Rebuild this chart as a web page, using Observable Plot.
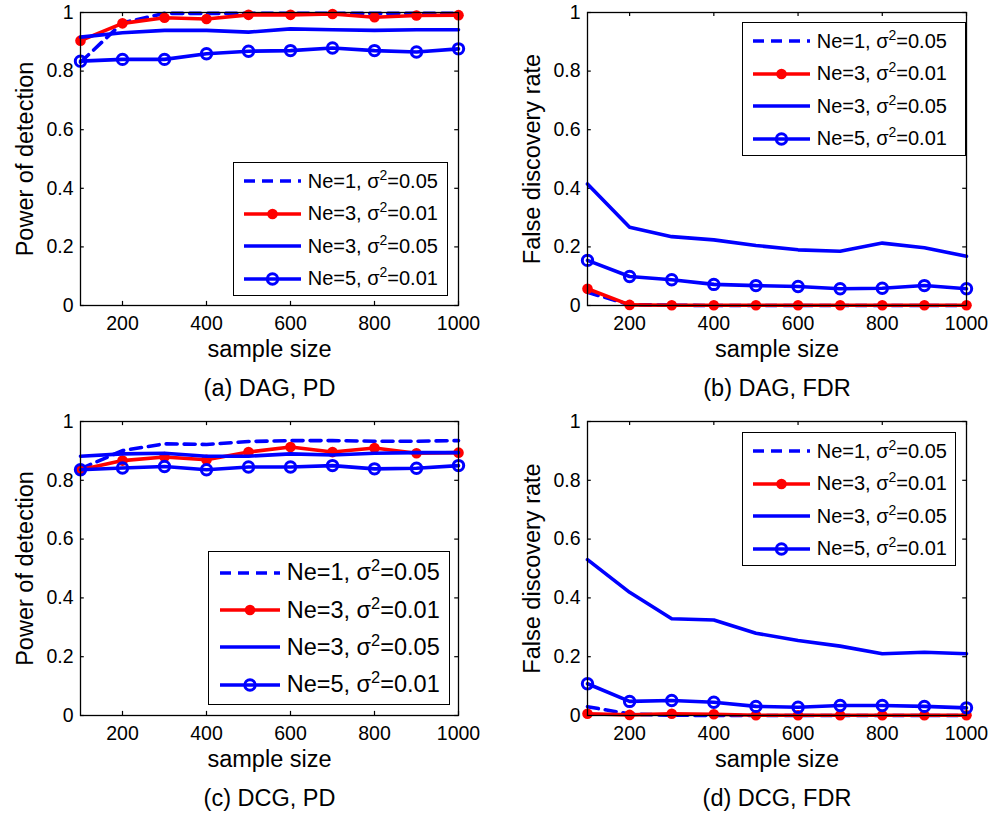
<!DOCTYPE html>
<html>
<head>
<meta charset="utf-8">
<script src="https://cdn.jsdelivr.net/npm/d3@7"></script>
<script src="https://cdn.jsdelivr.net/npm/@observablehq/plot@0.6"></script>
<style>
  body { margin: 0; background: #fff; }
  #root { position: relative; width: 992px; height: 817px; background: #fff; font-family: "Liberation Sans", Arial, Helvetica, sans-serif; color: #000; overflow: hidden; }
  .panel { position: absolute; }
  .legend { position: absolute; background: #fff; border: 1.3px solid #000; box-sizing: border-box; }
  .row { position: absolute; left: 0; display: flex; align-items: center; white-space: nowrap; }
  .row sup { font-size: 70%; line-height: 0; vertical-align: 0.55em; }
</style>
</head>
<body>
<div id="root"></div>
<script>
// ---------- data ----------
const sampleSizes = [100, 200, 300, 400, 500, 600, 700, 800, 900, 1000];
const xTicks = [200, 400, 600, 800, 1000];
const yTicks = [0, 0.2, 0.4, 0.6, 0.8, 1];

const seriesNe = ["Ne=1", "Ne=3", "Ne=3", "Ne=5"];
const seriesSigma = ["0.05", "0.01", "0.05", "0.01"];
const seriesColor = ["#0000ff", "#ff0000", "#0000ff", "#0000ff"];
const seriesStyle = ["dashed", "dot", "solid", "circle"];

// (a) DAG, PD
const dagPD_ne1_s05 = [0.830, 0.965, 0.997, 0.997, 0.997, 0.997, 0.997, 0.997, 0.997, 0.997];
const dagPD_ne3_s01 = [0.904, 0.963, 0.982, 0.978, 0.992, 0.992, 0.995, 0.984, 0.990, 0.991];
const dagPD_ne3_s05 = [0.916, 0.931, 0.939, 0.939, 0.933, 0.944, 0.941, 0.939, 0.941, 0.941];
const dagPD_ne5_s01 = [0.834, 0.840, 0.840, 0.859, 0.868, 0.870, 0.879, 0.870, 0.865, 0.876];

// (b) DAG, FDR
const dagFDR_ne1_s05 = [0.045, 0.003, 0.001, 0.000, 0.000, 0.000, 0.000, 0.000, 0.000, 0.000];
const dagFDR_ne3_s01 = [0.057, 0.002, 0.001, 0.001, 0.001, 0.001, 0.001, 0.001, 0.001, 0.001];
const dagFDR_ne3_s05 = [0.415, 0.267, 0.235, 0.224, 0.205, 0.190, 0.185, 0.213, 0.197, 0.168];
const dagFDR_ne5_s01 = [0.154, 0.099, 0.088, 0.072, 0.068, 0.065, 0.057, 0.059, 0.068, 0.057];

// (c) DCG, PD
const dcgPD_ne1_s05 = [0.839, 0.901, 0.924, 0.922, 0.932, 0.935, 0.935, 0.933, 0.933, 0.935];
const dcgPD_ne3_s01 = [0.836, 0.867, 0.879, 0.870, 0.896, 0.913, 0.896, 0.910, 0.892, 0.894];
const dcgPD_ne3_s05 = [0.882, 0.890, 0.892, 0.882, 0.882, 0.890, 0.886, 0.892, 0.894, 0.894];
const dcgPD_ne5_s01 = [0.836, 0.842, 0.847, 0.836, 0.845, 0.845, 0.850, 0.839, 0.841, 0.850];

// (d) DCG, FDR
const dcgFDR_ne1_s05 = [0.030, 0.005, 0.001, 0.000, 0.000, 0.000, 0.000, 0.000, 0.000, 0.000];
const dcgFDR_ne3_s01 = [0.006, 0.002, 0.006, 0.004, 0.001, 0.001, 0.001, 0.001, 0.001, 0.001];
const dcgFDR_ne3_s05 = [0.530, 0.419, 0.329, 0.325, 0.280, 0.255, 0.236, 0.210, 0.215, 0.210];
const dcgFDR_ne5_s01 = [0.108, 0.048, 0.051, 0.045, 0.031, 0.028, 0.034, 0.034, 0.031, 0.026];

const panelCaptions = ["(a) DAG, PD", "(b) DAG, FDR", "(c) DCG, PD", "(d) DCG, FDR"];
const panelYLabels = ["Power of detection", "False discovery rate", "Power of detection", "False discovery rate"];

// ---------- drawing ----------
const FONT = '"Liberation Sans", Arial, Helvetica, sans-serif';
const root = document.getElementById("root");

function rows(vals) { return sampleSizes.map((x, i) => ({x, y: vals[i]})); }

function seriesMarks(seriesVals) {
  const marks = [];
  seriesVals.forEach((vals, k) => {
    const data = rows(vals);
    const c = seriesColor[k];
    const st = seriesStyle[k];
    marks.push(Plot.lineY(data, {x: "x", y: "y", stroke: c, strokeWidth: 3.6,
      strokeDasharray: st === "dashed" ? "11,7" : null, strokeLinejoin: "round"}));
    if (st === "dot") marks.push(Plot.dot(data, {x: "x", y: "y", r: 5.3, fill: c, stroke: null}));
    if (st === "circle") marks.push(Plot.dot(data, {x: "x", y: "y", r: 5.2, fill: "none", stroke: c, strokeWidth: 3}));
  });
  return marks;
}

function makePanel(idx, seriesVals, left, top, plotW, plotH) {
  const mL = 80, mT = 12, mB = 95, mR = 21;
  const chart = Plot.plot({
    width: mL + plotW + mR,
    height: mT + plotH + mB,
    marginLeft: mL, marginRight: mR, marginTop: mT, marginBottom: mB,
    x: {domain: [100, 1000]},
    y: {domain: [0, 1]},
    style: {fontFamily: FONT, color: "#000", background: "transparent", overflow: "visible"},
    marks: [
      Plot.axisX({ticks: xTicks, tickSize: 0, tickPadding: 11, fontSize: 19.5, label: null, tickFormat: d => String(d)}),
      Plot.axisY({ticks: yTicks, tickSize: 0, tickPadding: 7, fontSize: 19.5, label: null, tickFormat: d => String(d)}),
      // inward MATLAB-style ticks on all four sides
      Plot.ruleX(xTicks, {x: d => d, y1: 0, y2: 0.014, stroke: "#000", strokeWidth: 1.2}),
      Plot.ruleX(xTicks, {x: d => d, y1: 1, y2: 0.986, stroke: "#000", strokeWidth: 1.2}),
      Plot.ruleY(yTicks, {y: d => d, x1: 100, x2: 109, stroke: "#000", strokeWidth: 1.2}),
      Plot.ruleY(yTicks, {y: d => d, x1: 1000, x2: 991, stroke: "#000", strokeWidth: 1.2}),
      ...seriesMarks(seriesVals),
      Plot.frame({stroke: "#000", strokeWidth: 1.3}),
      Plot.text(["sample size"], {text: d => d, frameAnchor: "bottom", dy: 44, textAnchor: "middle", lineAnchor: "middle", fontSize: 23.5, fill: "#000"}),
      Plot.text([panelCaptions[idx]], {text: d => d, frameAnchor: "bottom", dy: 83, textAnchor: "middle", lineAnchor: "middle", fontSize: 23.5, fill: "#000"}),
      Plot.text([panelYLabels[idx]], {text: d => d, frameAnchor: "left", dx: -55, rotate: -90, textAnchor: "middle", lineAnchor: "middle", fontSize: 23.5, fill: "#000"})
    ]
  });
  const wrap = document.createElement("div");
  wrap.className = "panel";
  wrap.style.left = left + "px";
  wrap.style.top = top + "px";
  wrap.appendChild(chart);
  root.appendChild(wrap);
}

function sampleSVG(k, len) {
  const c = seriesColor[k], st = seriesStyle[k];
  const h = 16, cy = h / 2;
  let s = `<svg width="${len}" height="${h}" style="display:block;overflow:visible">`;
  s += `<line x1="0" x2="${len}" y1="${cy}" y2="${cy}" stroke="${c}" stroke-width="3.6" ${st === "dashed" ? 'stroke-dasharray="11,7"' : ""}/>`;
  if (st === "dot") s += `<circle cx="${len / 2}" cy="${cy}" r="5.3" fill="${c}"/>`;
  if (st === "circle") s += `<circle cx="${len / 2}" cy="${cy}" r="5.2" fill="none" stroke="${c}" stroke-width="3"/>`;
  return s + "</svg>";
}

function makeLegend(left, top, width, height, firstRow, rowStep, lineX, lineLen, gap, fontSize) {
  const box = document.createElement("div");
  box.className = "legend";
  Object.assign(box.style, {left: left + "px", top: top + "px", width: width + "px", height: height + "px", fontSize: fontSize + "px"});
  seriesNe.forEach((ne, k) => {
    const r = document.createElement("div");
    r.className = "row";
    const rh = 30;
    r.style.top = (firstRow + k * rowStep - rh / 2 - 1.3) + "px";
    r.style.height = rh + "px";
    r.style.left = (lineX - 1.3) + "px";
    r.innerHTML = sampleSVG(k, lineLen) + `<span style="margin-left:${gap}px">${ne}, σ<sup>2</sup>=${seriesSigma[k]}</span>`;
    box.appendChild(r);
  });
  root.appendChild(box);
}

makePanel(0, [dagPD_ne1_s05, dagPD_ne3_s01, dagPD_ne3_s05, dagPD_ne5_s01], 0, 0, 378, 293);
makePanel(1, [dagFDR_ne1_s05, dagFDR_ne3_s01, dagFDR_ne3_s05, dagFDR_ne5_s01], 507, 0, 379, 293);
makePanel(2, [dcgPD_ne1_s05, dcgPD_ne3_s01, dcgPD_ne3_s05, dcgPD_ne5_s01], 0, 409, 378, 294);
makePanel(3, [dcgFDR_ne1_s05, dcgFDR_ne3_s01, dcgFDR_ne3_s05, dcgFDR_ne5_s01], 507, 409, 379, 294);

makeLegend(233, 162, 215, 134, 19.7, 32.4, 11, 57, 7, 20);
makeLegend(742, 22, 224, 134, 19.7, 32.4, 11, 57, 7, 20);
makeLegend(208, 551, 242, 154, 22, 37.3, 12, 60, 7, 23.5);
makeLegend(742, 432, 214, 134, 19.7, 32.4, 11, 57, 7, 20);
</script>
</body>
</html>
